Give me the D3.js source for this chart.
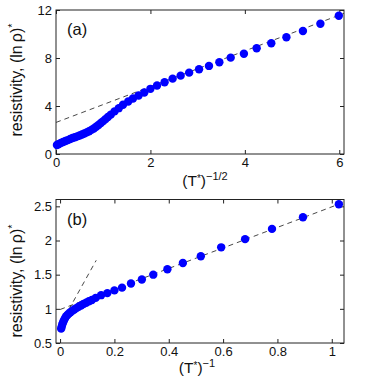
<!DOCTYPE html>
<html>
<head>
<meta charset="utf-8">
<script src="https://cdn.jsdelivr.net/npm/d3@7"></script>
<style>
    body { margin: 0; background: #fff; }
    text { font-family: "Liberation Sans", Arial, sans-serif; fill: #111; }
</style>
</head>
<body>
<div id="chart"></div>
<script>
// panel (a): resistivity vs (T*)^-1/2
var aX = [0.02, 0.05, 0.10, 0.15, 0.20, 0.25, 0.30, 0.35, 0.40, 0.45, 0.50, 0.55, 0.60, 0.65, 0.70, 0.75,
    0.80, 0.85, 0.90, 0.95, 1.00, 1.05, 1.10, 1.16, 1.24, 1.33, 1.42, 1.53, 1.63, 1.75, 1.87,
    2.00, 2.14, 2.30, 2.47, 2.64, 2.82, 3.03, 3.24, 3.46, 3.70, 3.98, 4.25, 4.56, 4.88, 5.23, 5.60, 5.99];
var aY = [0.75, 0.82, 0.92, 1.00, 1.08, 1.16, 1.25, 1.33, 1.40, 1.47, 1.54, 1.62, 1.71, 1.80, 1.90, 2.01,
    2.13, 2.27, 2.42, 2.58, 2.74, 2.91, 3.08, 3.28, 3.55, 3.82, 4.10, 4.37, 4.62, 4.87, 5.12,
    5.43, 5.71, 5.98, 6.28, 6.53, 6.78, 7.06, 7.34, 7.65, 8.03, 8.36, 8.81, 9.23, 9.73, 10.25, 10.86, 11.52];
var aFitX = [0, 6.1];
var aFitY = [2.63, 11.72];
var aXTicks = [0, 2, 4, 6];
var aYTicks = [0, 4, 8, 12];

// panel (b): resistivity vs (T*)^-1
var bX = [0.004, 0.006, 0.008, 0.011, 0.014, 0.018, 0.022, 0.027, 0.032, 0.038, 0.045, 0.052, 0.060,
    0.068, 0.077, 0.086, 0.096, 0.106, 0.117, 0.131, 0.151, 0.174, 0.200, 0.228, 0.261,
    0.301, 0.343, 0.395, 0.452, 0.518, 0.593, 0.681, 0.780, 0.894, 1.026];
var bY = [0.71, 0.74, 0.77, 0.80, 0.83, 0.86, 0.89, 0.91, 0.93, 0.95, 0.97, 0.99, 1.01,
    1.03, 1.05, 1.07, 1.09, 1.11, 1.13, 1.16, 1.20, 1.23, 1.27, 1.31, 1.37,
    1.43, 1.50, 1.58, 1.67, 1.77, 1.90, 2.02, 2.17, 2.34, 2.53];
var bFit1X = [0, 1.045];
var bFit1Y = [0.99, 2.56];
var bFit2X = [0.0, 0.133];
var bFit2Y = [0.76, 1.71];
var bXTicks = [0, 0.2, 0.4, 0.6, 0.8, 1];
var bYTicks = [0.5, 1, 1.5, 2, 2.5];

var width = 374, height = 383;
var svg = d3.select("#chart").append("svg")
    .attr("width", width)
    .attr("height", height);

function drawPanel(opt) {
    var x = d3.scaleLinear().domain(opt.xDomain).range([56, 344]);
    var y = d3.scaleLinear().domain(opt.yDomain).range([opt.bottom, opt.top]);
    var g = svg.append("g");

    // ticks on all four sides, pointing in
    g.append("g")
        .attr("transform", "translate(0," + opt.bottom + ")")
        .call(d3.axisBottom(x).tickValues(opt.xTicks).tickSize(-4).tickSizeOuter(0).tickPadding(4)
            .tickFormat(d3.format("")))
        .call(styleAxis);
    g.append("g")
        .attr("transform", "translate(0," + opt.top + ")")
        .call(d3.axisTop(x).tickValues(opt.xTicks).tickSize(-4).tickSizeOuter(0).tickFormat(""))
        .call(styleAxis);
    g.append("g")
        .attr("transform", "translate(56,0)")
        .call(d3.axisLeft(y).tickValues(opt.yTicks).tickSize(-4).tickSizeOuter(0).tickPadding(4)
            .tickFormat(d3.format("")))
        .call(styleAxis);
    g.append("g")
        .attr("transform", "translate(344,0)")
        .call(d3.axisRight(y).tickValues(opt.yTicks).tickSize(-4).tickSizeOuter(0).tickFormat(""))
        .call(styleAxis);

    g.append("rect")
        .attr("x", 56).attr("y", opt.top)
        .attr("width", 288).attr("height", opt.bottom - opt.top)
        .attr("fill", "none").attr("stroke", "#222").attr("stroke-width", 1);

    var line = d3.line()
        .x(function (d) { return x(d[0]); })
        .y(function (d) { return y(d[1]); });

    opt.fits.forEach(function (f) {
        g.append("path")
            .datum(d3.zip(f[0], f[1]))
            .attr("d", line)
            .attr("fill", "none")
            .attr("stroke", "#333")
            .attr("stroke-width", 0.9)
            .attr("stroke-dasharray", "5,4");
    });

    g.append("g").selectAll("circle")
        .data(d3.zip(opt.xs, opt.ys))
        .enter().append("circle")
        .attr("cx", function (d) { return x(d[0]); })
        .attr("cy", function (d) { return y(d[1]); })
        .attr("r", 4.2)
        .attr("fill", "#0000ff");

    g.append("text")
        .attr("x", 67).attr("y", opt.top + 25)
        .style("font-size", "16.5px")
        .text(opt.tag);

    // y label
    var yl = g.append("text")
        .attr("transform", "translate(22," + opt.yLabelY + ") rotate(-90)")
        .attr("text-anchor", "middle")
        .style("font-size", "16px");
    yl.append("tspan").text("resistivity, (ln\u2009\u03c1)");
    yl.append("tspan").attr("dy", -6).style("font-size", "11px").text("*");

    // x label
    var xl = g.append("text")
        .attr("x", opt.xLabelX).attr("y", opt.xLabelY)
        .attr("text-anchor", "middle")
        .style("font-size", "15.5px");
    xl.append("tspan").text("(T");
    xl.append("tspan").attr("dy", -4).style("font-size", "10px").text("*");
    xl.append("tspan").attr("dy", 4).text(")");
    xl.append("tspan").attr("dy", -6).style("font-size", "11px").text(opt.power);
}

function styleAxis(sel) {
    sel.select(".domain").remove();
    sel.selectAll(".tick line").attr("stroke", "#222");
    sel.selectAll(".tick text")
        .style("font-size", "13px")
        .style("font-family", "'Liberation Sans', Arial, sans-serif")
        .attr("fill", "#111");
}

drawPanel({
    xDomain: [0, 6.1], yDomain: [0, 12], top: 10, bottom: 154,
    xTicks: aXTicks, yTicks: aYTicks,
    xs: aX, ys: aY,
    fits: [[aFitX, aFitY]],
    tag: "(a)", power: "\u22121/2",
    yLabelY: 80, xLabelX: 205, xLabelY: 186
});

drawPanel({
    xDomain: [-0.015, 1.045], yDomain: [0.5, 2.6], top: 199.5, bottom: 343,
    xTicks: bXTicks, yTicks: bYTicks,
    xs: bX, ys: bY,
    fits: [[bFit1X, bFit1Y], [bFit2X, bFit2Y]],
    tag: "(b)", power: "\u22121",
    yLabelY: 281, xLabelX: 197, xLabelY: 373
});
</script>
</body>
</html>
